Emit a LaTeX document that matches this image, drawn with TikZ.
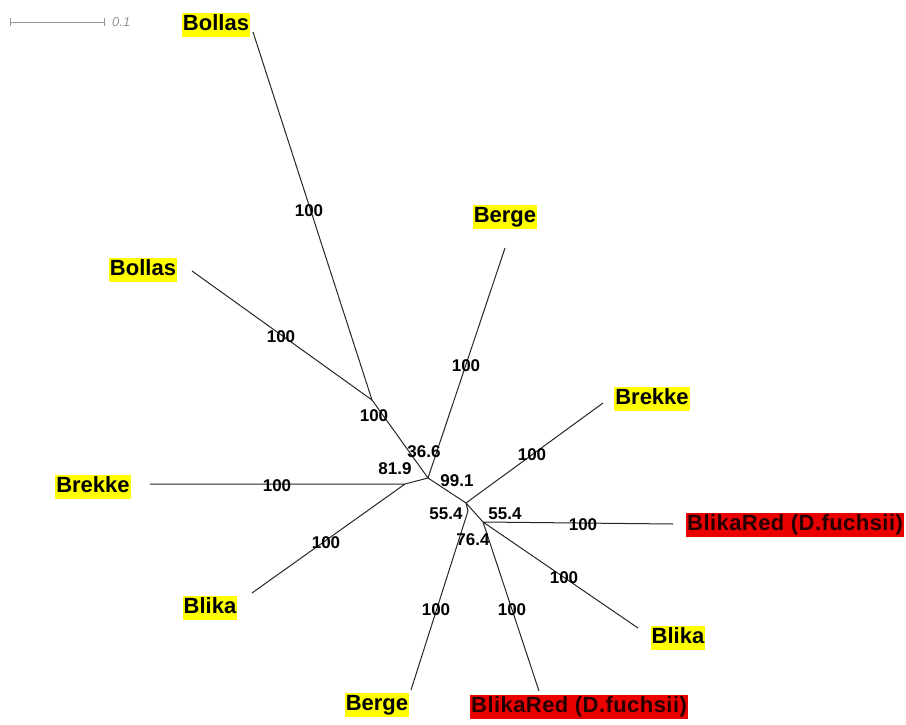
\documentclass[tikz,border=0pt]{standalone}
\usepackage{fontspec}
\setmainfont{Liberation Sans}
\definecolor{hiyellow}{RGB}{255,255,0}
\definecolor{hired}{RGB}{235,0,0}
\definecolor{bargray}{RGB}{150,150,150}
\tikzset{
  taxon/.style={font=\fontsize{22}{24}\selectfont\bfseries,fill=hiyellow,
    inner xsep=1pt,inner ysep=1.5pt,text height=16pt,text depth=4.5pt},
  redtaxon/.style={taxon,fill=hired,text=black!85!red,
    font=\fontsize{22}{24}\selectfont\bfseries\addfontfeatures{LetterSpace=2}},
  boot/.style={font=\fontsize{17}{19}\selectfont\bfseries,inner sep=0pt},
  branch/.style={line width=1pt,black!85}
}

\begin{document}
\begin{tikzpicture}[x=1pt,y=-1pt]
    \useasboundingbox (0,0) rectangle (906,725);
    % scale bar
    \coordinate (sbL) at (10,22);
    \coordinate (sbR) at (104,22);
    \draw[bargray,line width=0.8pt] (sbL) -- (sbR) (sbL) +(0,-4) -- +(0,4) (sbR) +(0,-4) -- +(0,4);
    \node[bargray,font=\fontsize{13}{15}\selectfont\itshape,anchor=west,inner sep=0pt] (sbT) at (112,22) {0.1};
    % inner nodes of the tree
    \coordinate (nBol) at (372,400);
    \coordinate (nCen) at (428,478);
    \coordinate (nBre) at (405,484);
    \coordinate (nMid) at (466,503);
    \coordinate (nBer) at (468,511);
    \coordinate (nRed) at (483,522);
    % branch tips
    \coordinate (tBolA) at (253,32);
    \coordinate (tBolB) at (192,271);
    \coordinate (tBerA) at (505,248);
    \coordinate (tBreA) at (603,403);
    \coordinate (tBreB) at (150,484);
    \coordinate (tBliA) at (252,593);
    \coordinate (tRedA) at (673,524);
    \coordinate (tBliB) at (638,628);
    \coordinate (tBerB) at (411,690);
    \coordinate (tRedB) at (539,691);
    % branches
    \draw[branch] (tBolA) -- (nBol) (tBolB) -- (nBol) (nBol) -- (nCen);
    \draw[branch] (tBerA) -- (nCen) (nCen) -- (nBre) (nCen) -- (nMid);
    \draw[branch] (tBreB) -- (nBre) (tBliA) -- (nBre);
    \draw[branch] (tBreA) -- (nMid) (nMid) -- (nBer) (nMid) -- (nRed);
    \draw[branch] (nBer) -- (tBerB);
    \draw[branch] (nRed) -- (tRedA) (nRed) -- (tBliB) (nRed) -- (tRedB);
    % taxa
    \node[taxon] (lBolA) at (216,25) {Bollas};
    \node[taxon] (lBolB) at (143,270) {Bollas};
    \node[taxon] (lBerA) at (505,217) {Berge};
    \node[taxon] (lBreA) at (652,399) {Brekke};
    \node[taxon] (lBreB) at (93,487) {Brekke};
    \node[taxon] (lBliA) at (210,608) {Blika};
    \node[taxon] (lBliB) at (678,638) {Blika};
    \node[taxon] (lBerB) at (377,705) {Berge};
    \node[redtaxon,anchor=west] (lRedA) at (686,525) {BlikaRed (D.fuchsii)};
    \node[redtaxon,anchor=west] (lRedB) at (470,707) {BlikaRed (D.fuchsii)};
    % support values
    \node[boot] (b1) at (309,211) {100};
    \node[boot] (b2) at (281,337) {100};
    \node[boot] (b3) at (374,416) {100};
    \node[boot] (b4) at (424,452) {36.6};
    \node[boot] (b5) at (466,366) {100};
    \node[boot] (b6) at (395,469) {81.9};
    \node[boot] (b7) at (457,481) {99.1};
    \node[boot] (b8) at (532,455) {100};
    \node[boot] (b9) at (277,486) {100};
    \node[boot] (b10) at (326,543) {100};
    \node[boot] (b11) at (446,514) {55.4};
    \node[boot] (b12) at (505,514) {55.4};
    \node[boot] (b13) at (473,540) {76.4};
    \node[boot] (b14) at (583,525) {100};
    \node[boot] (b15) at (564,578) {100};
    \node[boot] (b16) at (436,610) {100};
    \node[boot] (b17) at (512,610) {100};
\end{tikzpicture}
\end{document}
